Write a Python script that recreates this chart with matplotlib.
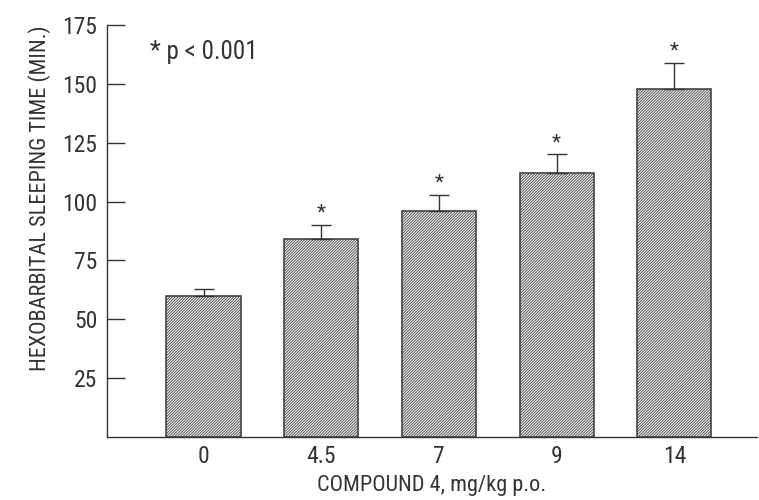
import matplotlib
matplotlib.use("Agg")
import matplotlib.pyplot as plt
from matplotlib import font_manager

# dose groups and mean sleeping time (min) with upper SEM
doses = ['0', '4.5', '7', '9', '14']
sleep_time = [60, 84, 96, 112, 148]
sem = [3, 6, 7, 8, 11]
significant = [False, True, True, True, True]

# prefer a narrow sans face, like the original print
installed = set(f.name for f in font_manager.fontManager.ttflist)
narrow = [n for n in ['Liberation Sans Narrow', 'DejaVu Sans Condensed',
                      'Roboto Condensed', 'Open Sans Condensed',
                      'Noto Sans Display', 'Roboto']
          if n in installed]
plt.rcParams['font.family'] = narrow + ['DejaVu Sans']
plt.rcParams['font.stretch'] = 'condensed'
plt.rcParams['hatch.linewidth'] = 0.6
plt.rcParams['hatch.color'] = '#707070'

fig = plt.figure(figsize=(7.59, 5.0), dpi=100)
ax = fig.add_axes([0.141, 0.126, 0.856, 0.824])

pos = list(range(len(doses)))
ax.bar(pos, sleep_time, width=0.63, color='#f4f4f4', edgecolor='#444444',
       linewidth=1.2, hatch='////////////', zorder=2)
ax.errorbar(pos, sleep_time, yerr=[[0] * len(sem), sem], fmt='none',
            ecolor='#333333', elinewidth=1.0, capsize=7, capthick=1.0, zorder=3)

for x, y, e, s in zip(pos, sleep_time, sem, significant):
    if s:
        ax.text(x, y + e + 1, '*', ha='center', va='bottom', fontsize=15,
                color='#333333')

ax.text(0.066, 0.934, '* p < 0.001', transform=ax.transAxes, fontsize=18,
        color='#333333', va='center')

ax.set_xlim(-0.82, 4.7)
ax.set_ylim(0, 175)
ax.set_yticks([25, 50, 75, 100, 125, 150, 175])
ax.set_xticks(pos)
ax.set_xticklabels(doses)
ax.tick_params(axis='y', direction='in', length=13, width=1.0,
               labelsize=17, labelcolor='#333333', color='#333333', pad=7)
ax.tick_params(axis='x', length=0, labelsize=17, labelcolor='#333333', pad=6)
for side in ['top', 'right']:
    ax.spines[side].set_visible(False)
for side in ['left', 'bottom']:
    ax.spines[side].set_color('#333333')
    ax.spines[side].set_linewidth(1.0)

ax.set_ylabel('HEXOBARBITAL SLEEPING TIME (MIN.)', fontsize=16,
              color='#333333')
ax.yaxis.set_label_coords(-0.086, 0.58)
ax.set_xlabel('COMPOUND 4, mg/kg p.o.', fontsize=16, color='#333333',
              labelpad=5)

fig.savefig('out.png', dpi=100)
